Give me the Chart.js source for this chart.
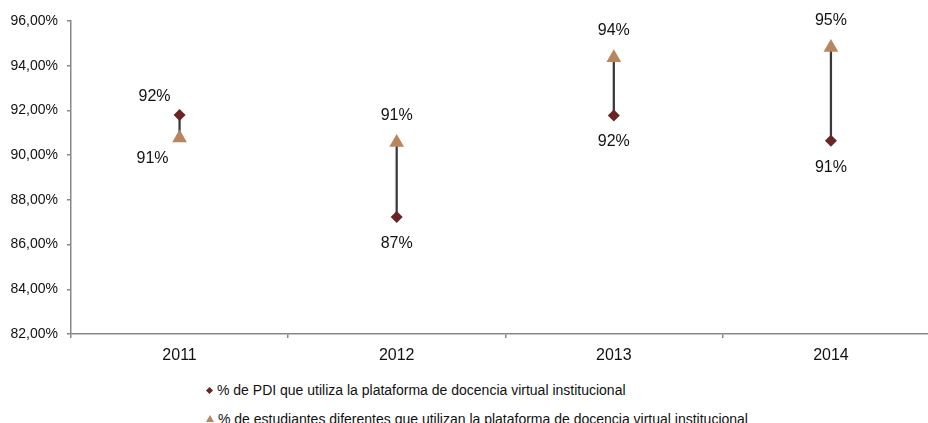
<!DOCTYPE html>
<html lang="es">
<head>
  <meta charset="UTF-8">
  <title>Uso de la plataforma de docencia virtual</title>
  <style>
    html, body {
      margin: 0;
      padding: 0;
      background: #fff;
      overflow: hidden;
      font-family: "Liberation Sans", Arial, sans-serif;
    }

    .wrap {
      position: relative;
      width: 948px;
      height: 423px;
    }

    .chart-box {
      position: absolute;
      left: 0;
      top: 0;
      width: 948px;
      height: 370px;
    }

    .legend {
      position: absolute;
      left: 206px;
      top: 376px;
      font-size: 14px;
      color: #111;
    }

    .legend .row {
      height: 29px;
      line-height: 29px;
      white-space: nowrap;
    }

    .mk {
      display: inline-block;
      vertical-align: middle;
      margin-right: 4px;
    }

    .mk-diamond {
      width: 5px;
      height: 5px;
      background: #6a2424;
      transform: rotate(45deg);
      margin-left: 1px;
      margin-right: 5px;
      position: relative;
      top: -1px;
    }

    .mk-triangle {
      width: 0;
      height: 0;
      border-left: 4px solid transparent;
      border-right: 4px solid transparent;
      border-bottom: 7px solid #b8865e;
      position: relative;
      top: -2px;
    }
  </style>
  <script src="https://cdn.jsdelivr.net/npm/chart.js"></script>
</head>
<body>

<div class="wrap">
  <div class="chart-box"><canvas id="chart"></canvas></div>
  <div class="legend" id="legend"></div>
</div>

<script>
  // datos
  const years = ['2011', '2012', '2013', '2014'];
  const pdi = [91.80, 87.23, 91.77, 90.64];
  const estudiantes = [90.77, 90.57, 94.36, 94.81];
  const yTicks = [82, 84, 86, 88, 90, 92, 94, 96];

  const pdiLabel = '% de PDI que utiliza la plataforma de docencia virtual institucional';
  const estLabel = '% de estudiantes diferentes que utilizan la plataforma de docencia virtual institucional';

  const colPdi = '#6a2424';
  const colEst = '#b8865e';

  // donde va cada etiqueta: [dx, dy] respecto al punto
  const labelPlace = {
    1: [[-25, -18], [0, 27], [0, 26], [0, 27]],
    2: [[-27, 21], [0, -27], [0, -27], [0, -27]]
  };

  const valueLabels = {
    id: 'valueLabels',
    afterDatasetsDraw(chart) {
      const ctx = chart.ctx;
      ctx.save();
      ctx.font = '16px "Liberation Sans", Arial, sans-serif';
      ctx.fillStyle = '#111';
      ctx.textAlign = 'center';
      ctx.textBaseline = 'middle';
      [1, 2].forEach(di => {
        const meta = chart.getDatasetMeta(di);
        const vals = chart.data.datasets[di].data;
        meta.data.forEach((pt, i) => {
          const off = labelPlace[di][i];
          ctx.fillText(Math.round(vals[i]) + '%', pt.x + off[0], pt.y + off[1]);
        });
      });
      ctx.restore();
    }
  };

  const ctx = document.getElementById('chart').getContext('2d');
  const chart = new Chart(ctx, {
    data: {
      labels: years,
      datasets: [
        {
          type: 'bar',
          label: 'rango',
          data: years.map((y, i) => [pdi[i], estudiantes[i]]),
          backgroundColor: '#3a3a3a',
          barThickness: 1.6,
          order: 3
        },
        {
          type: 'line',
          label: pdiLabel,
          data: pdi,
          showLine: false,
          pointStyle: 'rectRot',
          pointRadius: 6,
          pointHoverRadius: 6,
          pointBackgroundColor: colPdi,
          pointBorderColor: colPdi,
          pointBorderWidth: 0,
          order: 1
        },
        {
          type: 'line',
          label: estLabel,
          data: estudiantes,
          showLine: false,
          pointStyle: 'triangle',
          pointRadius: 8.5,
          pointHoverRadius: 8.5,
          pointBackgroundColor: colEst,
          pointBorderColor: colEst,
          pointBorderWidth: 0,
          order: 2
        }
      ]
    },
    options: {
      responsive: true,
      maintainAspectRatio: false,
      animation: false,
      layout: { padding: { top: 21, right: 1, left: 0, bottom: 0 } },
      plugins: {
        legend: { display: false },
        tooltip: { enabled: false }
      },
      scales: {
        x: {
          type: 'category',
          offset: true,
          afterFit: s => { s.height = 36; },
          grid: {
            offset: true,
            drawOnChartArea: false,
            drawTicks: true,
            tickLength: 4,
            color: '#888',
            lineWidth: 1.5
          },
          border: { color: '#888', width: 1.5 },
          ticks: {
            color: '#111',
            padding: 8,
            font: { family: '"Liberation Sans", Arial, sans-serif', size: 16 }
          }
        },
        y: {
          min: 82,
          max: 96,
          afterFit: s => { s.width = 71; },
          afterBuildTicks: s => { s.ticks = yTicks.map(v => ({ value: v })); },
          grid: {
            drawOnChartArea: false,
            drawTicks: true,
            tickLength: 4,
            color: '#888',
            lineWidth: 1.5
          },
          border: { color: '#888', width: 1.5 },
          ticks: {
            color: '#111',
            padding: 9,
            font: { family: '"Liberation Sans", Arial, sans-serif', size: 14 },
            callback: v => v.toFixed(2).replace('.', ',') + '%'
          }
        }
      }
    },
    plugins: [valueLabels]
  });

  // leyenda en html, alineada a la izquierda como en el original
  const legend = document.getElementById('legend');
  [[pdiLabel, 'mk-diamond'], [estLabel, 'mk-triangle']].forEach(([txt, cls]) => {
    const row = document.createElement('div');
    row.className = 'row';
    const mk = document.createElement('span');
    mk.className = 'mk ' + cls;
    row.appendChild(mk);
    row.appendChild(document.createTextNode(txt));
    legend.appendChild(row);
  });
</script>

</body>
</html>
